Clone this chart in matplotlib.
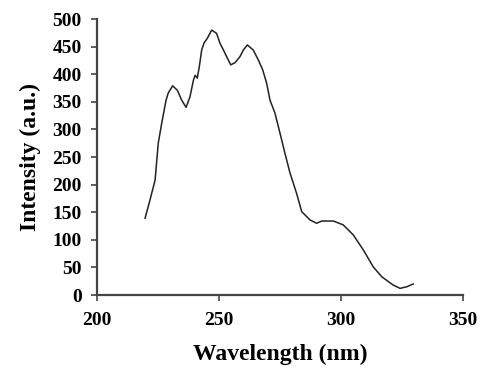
import matplotlib.pyplot as plt

wavelength = [219.7, 221.7, 223.8, 225.1, 226.5, 228.3, 229.2, 231.0, 232.9, 234.7,
              236.5, 238.1, 239.5, 240.2, 241.1, 241.9, 242.9, 243.9, 245.2, 247.0,
              249.0, 250.4, 251.8, 253.1, 254.8, 256.6, 258.6, 260.0, 261.6, 264.0,
              266.1, 267.9, 269.5, 270.9, 272.9, 275.0, 277.0, 279.1, 281.8, 283.9,
              287.3, 290.0, 292.1, 296.9, 300.9, 305.0, 309.1, 313.2, 316.7, 321.4,
              324.2, 327.0, 329.6]
intensity = [139, 172, 208, 275, 311, 353, 366, 379, 371, 353,
             340, 359, 389, 398, 393, 413, 444, 457, 465, 480,
             474, 456, 444, 432, 417, 421, 432, 444, 453, 444,
             426, 408, 384, 353, 330, 293, 257, 221, 184, 151,
             136, 130, 134, 134, 127, 109, 82, 51, 33, 18,
             12, 15, 20]

xticks = [200, 250, 300, 350]
yticks = list(range(0, 501, 50))

plt.rcParams['font.family'] = ['Liberation Serif', 'DejaVu Serif']
plt.rcParams['font.weight'] = 'bold'

fig = plt.figure(figsize=(4.81, 3.70), dpi=100)
ax = fig.add_axes([0.2017, 0.2027, 0.7609, 0.7459])

ax.plot(wavelength, intensity, color='#222222', lw=1.1)

ax.set_xlim(200, 350)
ax.set_ylim(0, 500)
ax.set_xticks(xticks)
ax.set_yticks(yticks)

for s in ['top', 'right']:
    ax.spines[s].set_visible(False)
for s in ['left', 'bottom']:
    ax.spines[s].set_color('#444444')
    ax.spines[s].set_linewidth(1.6)

ax.tick_params(axis='y', length=4, width=1.2, color='#444444', pad=7, labelsize=14)
ax.tick_params(axis='x', length=4, width=1.2, color='#444444', pad=8, labelsize=14)
for lab in ax.get_xticklabels() + ax.get_yticklabels():
    lab.set_fontweight('bold')

ax.set_xlabel('Wavelength (nm)', fontsize=17, fontweight='bold', labelpad=11)
ax.set_ylabel('Intensity (a.u.)', fontsize=17, fontweight='bold', labelpad=8)

fig.savefig('out.png', dpi=100)
